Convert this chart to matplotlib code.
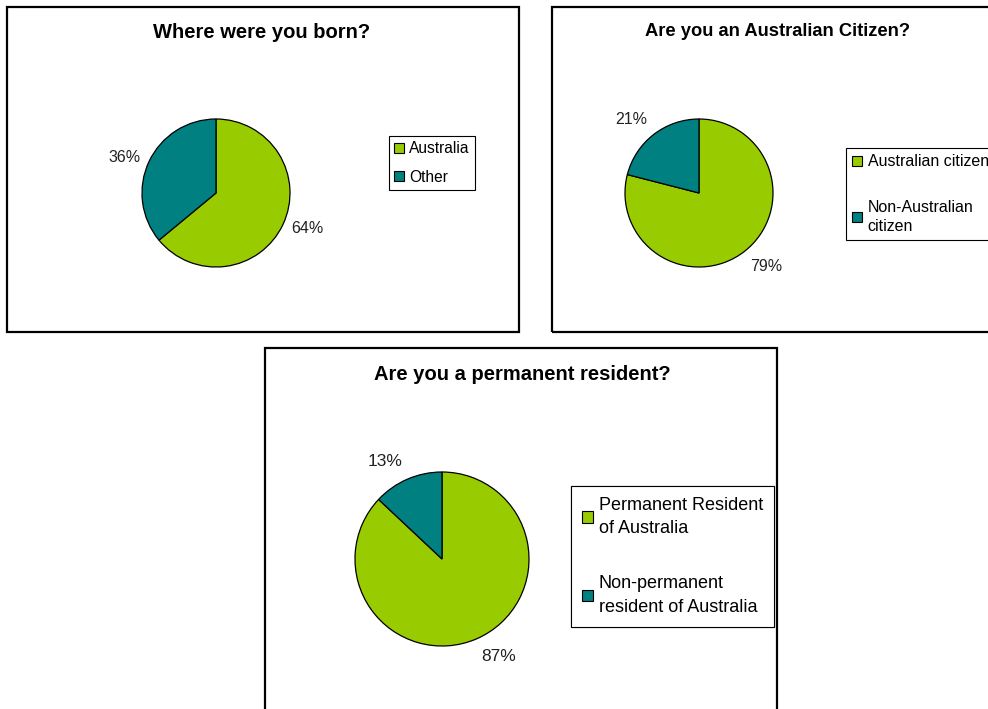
import matplotlib.pyplot as plt
from matplotlib.patches import Rectangle, Patch

plt.rcParams['font.family'] = ['Liberation Sans', 'DejaVu Sans']

GREEN = '#99CC00'
TEAL = '#008080'

# survey answers, percent of respondents
born_labels = ['Australia', 'Other']
born_values = [64, 36]

citizen_labels = ['Australian citizen', 'Non-Australian\ncitizen']
citizen_values = [79, 21]

resident_labels = ['Permanent Resident\nof Australia', 'Non-permanent\nresident of Australia']
resident_values = [87, 13]

W, H = 988, 709
fig = plt.figure(figsize=(W / 100, H / 100), dpi=100)
ax = fig.add_axes([0, 0, 1, 1])


def py(y):
    # pixel rows count downward, data y counts upward
    return H - y


def panel(box, title, title_pos, title_size, labels, values, center, radius,
          pct_size, leg_pos, leg_size, leg_spacing, leg_pad, line_sp):
    x0, y0, x1, y1 = box
    ax.add_patch(Rectangle((x0, py(y1)), x1 - x0, y1 - y0, fill=False,
                           edgecolor='black', linewidth=1.6, zorder=5))
    ax.text(title_pos[0], py(title_pos[1]), title, ha='center', va='center',
            fontsize=title_size, fontweight='bold')
    cx, cy = center[0], py(center[1])
    pd = 1.13
    _, _, pcts = ax.pie(values, colors=[GREEN, TEAL], startangle=90,
                        counterclock=False, center=(cx, cy), radius=radius,
                        frame=True,
                        wedgeprops=dict(edgecolor='black', linewidth=0.9),
                        autopct=lambda p: f'{p:.0f}%', pctdistance=pd,
                        textprops=dict(fontsize=pct_size, color='#222222'))
    # push the percentages just outside the rim, like callout labels
    for t in pcts:
        tx, ty = t.get_position()
        t.set_ha('left' if tx > cx else 'right')
        s = (ty - cy) / (radius * pd)
        if s > 0.5:
            t.set_va('bottom')
        elif s < -0.5:
            t.set_va('top')
        else:
            t.set_va('center')
    handles = [Patch(facecolor=c, edgecolor='black', linewidth=0.8)
               for c in (GREEN, TEAL)]
    leg = ax.legend(handles, labels, loc='upper left',
                    bbox_to_anchor=(leg_pos[0], py(leg_pos[1])),
                    bbox_transform=ax.transData, fontsize=leg_size,
                    frameon=True, fancybox=False, framealpha=1,
                    edgecolor='black', borderaxespad=0, borderpad=leg_pad,
                    handlelength=0.6, handleheight=0.6, handletextpad=0.35,
                    labelspacing=leg_spacing)
    for t in leg.get_texts():
        t.set_linespacing(line_sp)
    leg.get_frame().set_linewidth(0.8)
    ax.add_artist(leg)


panel((7, 7, 519, 332), 'Where were you born?', (262, 32), 14.5,
      born_labels, born_values, (216, 193), 74, 11.5,
      (389, 136), 11.2, 0.85, 0.35, 1.2)

panel((552, 7, 1000, 332), 'Are you an Australian Citizen?', (777, 32), 13.2,
      citizen_labels, citizen_values, (699, 193), 74, 11.5,
      (846, 148), 11.5, 1.9, 0.4, 1.35)

panel((265, 348, 777, 760), 'Are you a permanent resident?', (522, 375), 14.5,
      resident_labels, resident_values, (442, 559), 87, 12.5,
      (571, 486), 13, 2.1, 0.6, 1.5)

ax.set_xlim(0, W)
ax.set_ylim(0, H)
ax.set_aspect('auto')
ax.axis('off')

fig.savefig('out.png', dpi=100)
